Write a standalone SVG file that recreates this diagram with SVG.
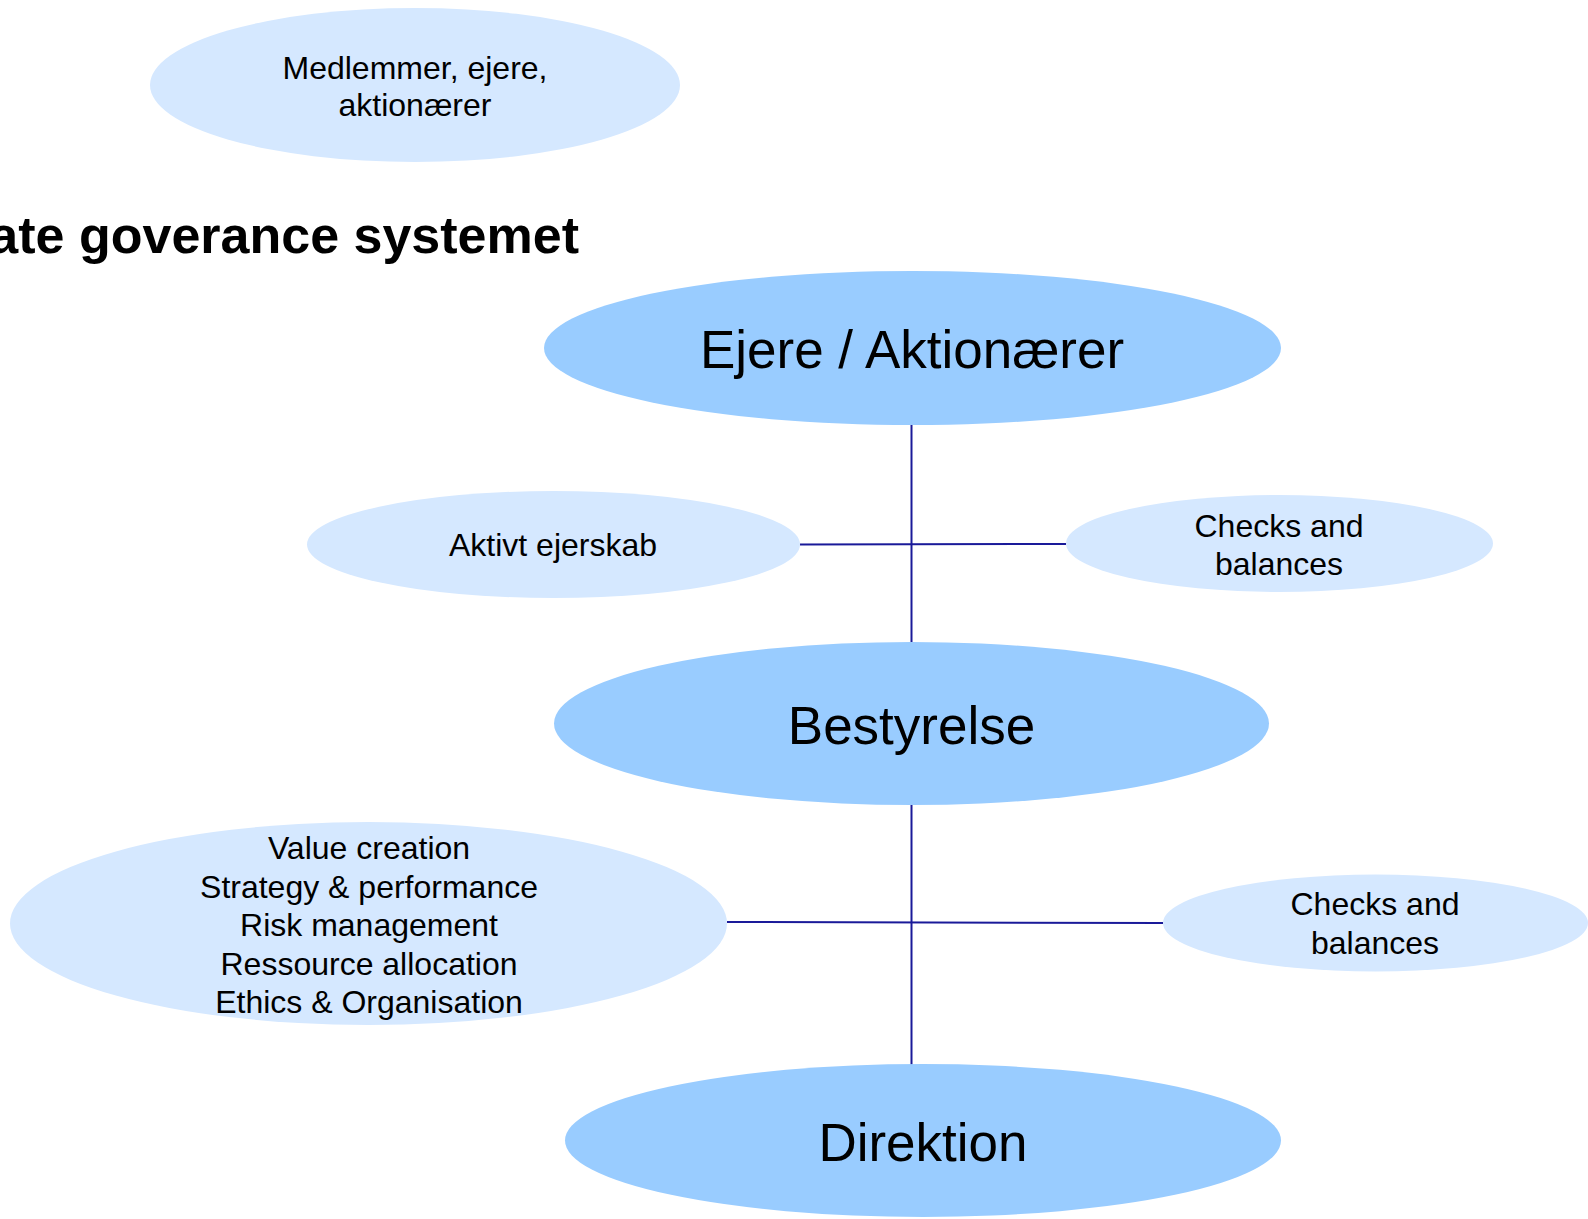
<svg xmlns="http://www.w3.org/2000/svg" width="1588" height="1219" viewBox="0 0 1588 1219">
<style>
.big{fill:#99CCFF}
.small{fill:#D5E8FF}
text{font-family:"Liberation Sans",Arial,sans-serif;fill:#000;text-anchor:middle}
.t32{font-size:32px}
.t53{font-size:53px}
.title{font-size:52px;font-weight:bold;text-anchor:end}
.conn{stroke:#1A1A99;stroke-width:2;fill:none}
</style>
<rect width="1588" height="1219" fill="#fff"/>
<g id="connectors">
<line class="conn" x1="911.5" y1="425" x2="911.5" y2="642"/>
<line class="conn" x1="800" y1="544.5" x2="1066" y2="544"/>
<line class="conn" x1="911.5" y1="805" x2="911.5" y2="1065"/>
<line class="conn" x1="727" y1="922" x2="1163" y2="923"/>
</g>
<g id="title"><text class="title" x="579" y="253">ate goverance systemet</text></g>
<g id="medlemmer">
<ellipse class="small" cx="415" cy="85" rx="265" ry="77"/>
<text class="t32" x="415" y="79">Medlemmer, ejere,</text>
<text class="t32" x="415" y="116">aktionærer</text>
</g>
<g id="ejere">
<ellipse class="big" cx="912.5" cy="348" rx="368.5" ry="77"/>
<text class="t53" x="912" y="368">Ejere / Aktionærer</text>
</g>
<g id="aktivt">
<ellipse class="small" cx="553.5" cy="544.5" rx="246.5" ry="53.5"/>
<text class="t32" x="553" y="556">Aktivt ejerskab</text>
</g>
<g id="checks1">
<ellipse class="small" cx="1279.5" cy="543.5" rx="213.5" ry="48.5"/>
<text class="t32" x="1279" y="537">Checks and</text>
<text class="t32" x="1279" y="575">balances</text>
</g>
<g id="bestyrelse">
<ellipse class="big" cx="911.5" cy="723.5" rx="357.5" ry="81.5"/>
<text class="t53" x="911.5" y="744">Bestyrelse</text>
</g>
<g id="value">
<ellipse class="small" cx="368.5" cy="923.5" rx="358.5" ry="101.5"/>
<text class="t32" x="369" y="859">Value creation</text>
<text class="t32" x="369" y="897.5">Strategy &amp; performance</text>
<text class="t32" x="369" y="936">Risk management</text>
<text class="t32" x="369" y="974.5">Ressource allocation</text>
<text class="t32" x="369" y="1013">Ethics &amp; Organisation</text>
</g>
<g id="checks2">
<ellipse class="small" cx="1375.5" cy="923" rx="212.5" ry="48.5"/>
<text class="t32" x="1375" y="915">Checks and</text>
<text class="t32" x="1375" y="954">balances</text>
</g>
<g id="direktion">
<ellipse class="big" cx="923" cy="1140.5" rx="358" ry="76.5"/>
<text class="t53" x="923" y="1161">Direktion</text>
</g>
</svg>
